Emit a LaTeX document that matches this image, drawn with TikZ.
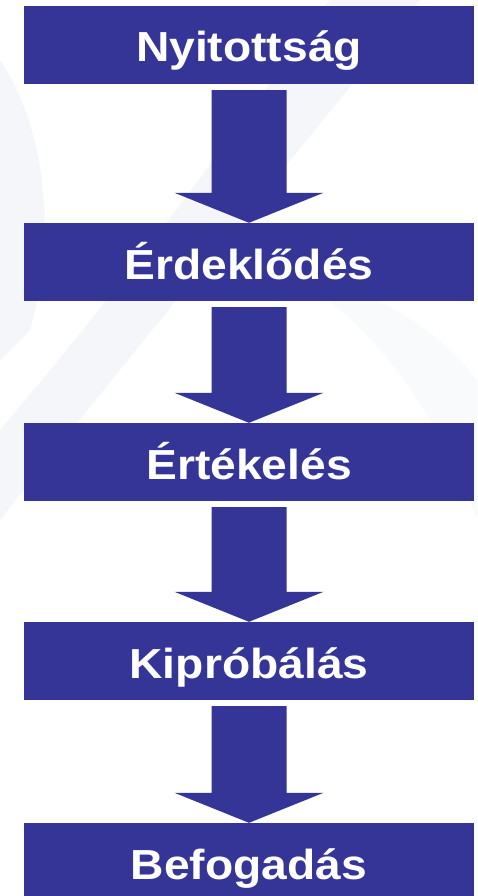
\documentclass[tikz,border=0pt]{standalone}
\usepackage{fontspec}
\setmainfont{Liberation Sans}
\usetikzlibrary{calc}
\definecolor{stepblue}{RGB}{53,53,151}
\definecolor{haze}{RGB}{244,246,250}
\newcommand{\wide}[1]{\scalebox{1.1}[1]{#1}}

\begin{document}
\begin{tikzpicture}[x=1pt,y=-1pt,
  stagebox/.style={fill=stepblue,text=white,font=\bfseries\fontsize{42}{42}\selectfont,
    minimum width=450pt,inner xsep=0pt,inner ysep=0pt,text height=56pt,text depth=22pt},
  flow/.style={fill=stepblue}]
\useasboundingbox[fill=white] (0,0) rectangle (477,896);
% faint background swooshes
\fill[haze] (330,0) -- (420,0) .. controls (300,150) and (150,330) .. (0,520) -- (0,430) .. controls (120,290) and (230,140) .. cycle;
\fill[haze] (0,60) .. controls (40,120) and (60,220) .. (30,330) -- (0,360) -- cycle;
\fill[haze!60] (300,280) .. controls (380,330) and (440,420) .. (477,520) -- (477,380) .. controls (430,320) and (370,290) .. cycle;
% stages
\node[stagebox] (open) at (249,45) {\wide{Nyitottság}};
\node[stagebox] (interest) at (249,262) {\wide{Érdeklődés}};
\node[stagebox] (eval) at (249,462) {\wide{Értékelés}};
\node[stagebox] (trial) at (249,661) {\wide{Kipróbálás}};
\node[stagebox] (adopt) at (249,862) {\wide{Befogadás}};
% block arrows
\foreach \a/\b in {open/interest,interest/eval,eval/trial,trial/adopt}
  \fill[flow] ($(\a.south)+(-37.5,6)$) -- ($(\b.north)+(-37.5,-30)$) -- ($(\b.north)+(-74.5,-30)$)
    -- (\b.north) -- ($(\b.north)+(74.5,-30)$) -- ($(\b.north)+(37.5,-30)$) -- ($(\a.south)+(37.5,6)$) -- cycle;
\end{tikzpicture}
\end{document}
